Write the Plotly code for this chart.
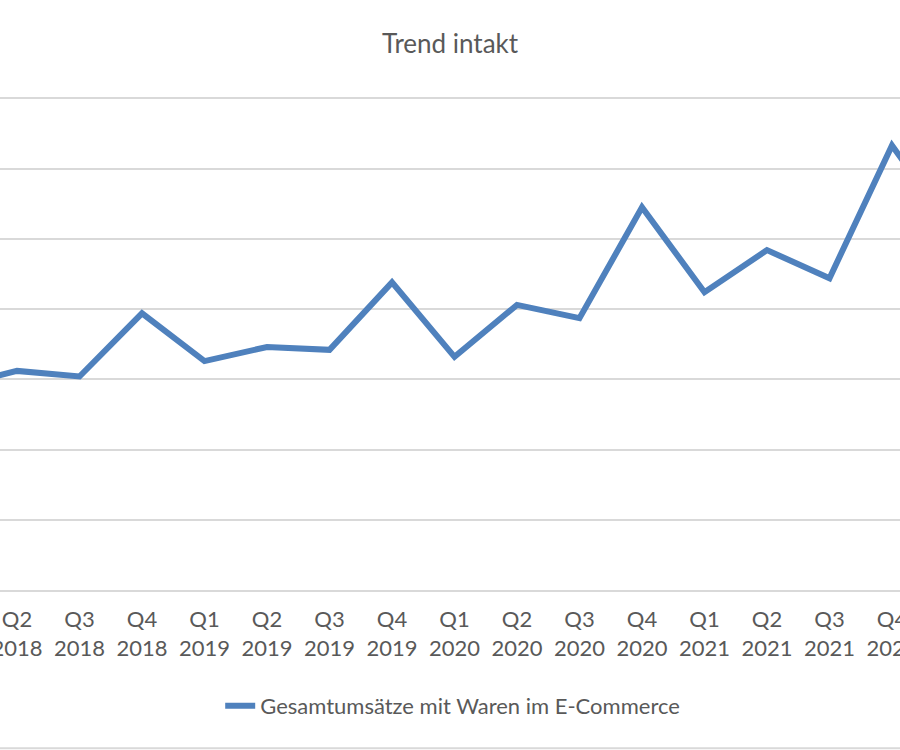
import plotly.graph_objects as go

# quarterly values (bn EUR)
quarters = ["Q1", "Q2", "Q3", "Q4"] * 4 + ["Q1"]
years = ["2018"] * 4 + ["2019"] * 4 + ["2020"] * 4 + ["2021"] * 4 + ["2022"]
umsatz = [14.5, 15.6, 15.2, 19.7, 16.3, 17.3, 17.1, 21.9,
          16.6, 20.3, 19.35, 27.25, 21.2, 24.2, 22.2, 31.65, 25.5]

labels = [f"{q}<br>{y}" for q, y in zip(quarters, years)]

grey = "#595959"
fnt = "Lato, 'Noto Sans', sans-serif"

fig = go.Figure()
fig.add_trace(go.Scatter(
    x=labels,
    y=umsatz,
    mode="lines",
    name="Gesamtumsätze mit Waren im E-Commerce",
    line=dict(color="#4F81BD", width=6),
))

fig.update_layout(
    width=900,
    height=750,
    paper_bgcolor="white",
    plot_bgcolor="white",
    margin=dict(l=0, r=0, t=97, b=160, autoexpand=False),
    font=dict(family=fnt, color=grey, size=22),
    title=dict(text="Trend intakt", x=0.5, xanchor="center", y=1 - 44 / 750,
               yanchor="middle", font=dict(size=26, color=grey, family=fnt)),
    xaxis=dict(
        type="category",
        range=[0.728, 15.128],
        showgrid=False,
        showline=True,
        linecolor="#d9d9d9",
        linewidth=2,
        ticks="",
        tickfont=dict(size=22, color=grey),
        ticklabelstandoff=9,
        automargin=False,
    ),
    yaxis=dict(
        range=[0, 35.1],
        dtick=5,
        showgrid=True,
        gridcolor="#d9d9d9",
        gridwidth=2,
        zeroline=False,
        showticklabels=False,
        automargin=False,
    ),
    showlegend=True,
    legend=dict(orientation="h", x=0.503, xanchor="center",
                yref="container", y=1 - 706 / 750,
                yanchor="middle", font=dict(size=22, color=grey)),
)

# chart border at bottom
fig.add_shape(type="line", xref="paper", yref="paper", x0=0, x1=1,
              y0=(590 - 748) / 492, y1=(590 - 748) / 492,
              line=dict(color="#d9d9d9", width=2))

# drop the default page margin so the figure fills the window
fig.write_html("out.html", config={"displayModeBar": False},
               post_script="document.body.style.margin='0';")
